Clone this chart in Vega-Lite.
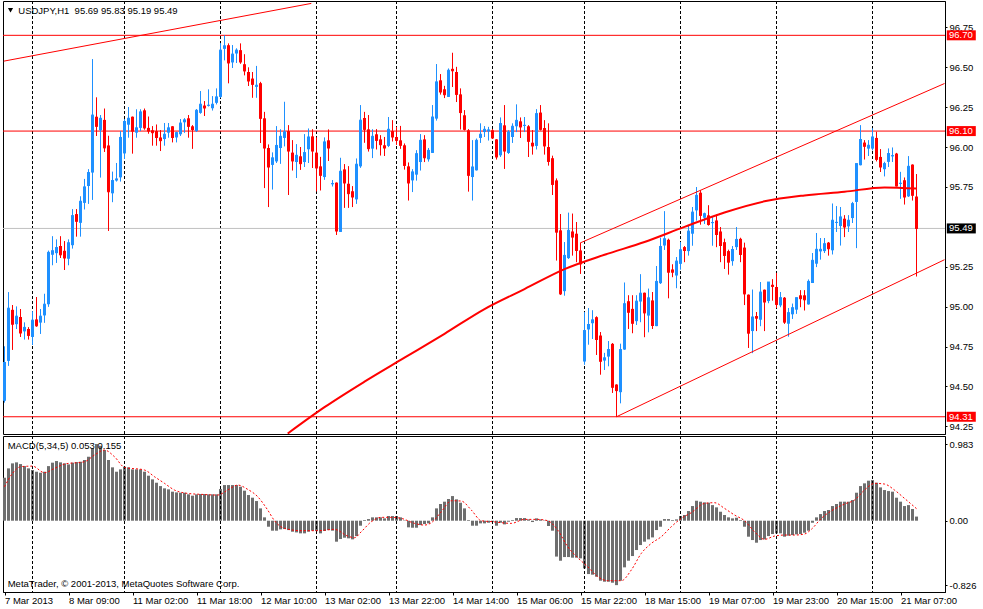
{
"$schema": "https://vega.github.io/schema/vega-lite/v6.json",
"padding": {"left": 2, "top": 0, "right": 0, "bottom": 0},
"autosize": {"type": "pad"},
"background": "white",
"spacing": 0,
"config": {"view": {"stroke": "#000000", "strokeWidth": 1}, "font": "Liberation Sans", "text": {"font": "Liberation Sans"}, "scale": {"continuousPadding": 0}},
"datasets": {
"sep": [{"i":7},{"i":30},{"i":54},{"i":78},{"i":98},{"i":122},{"i":145},{"i":169},{"i":193},{"i":217}],
"ma": [{"i":70.8,"p":94.205},{"i":80,"p":94.37},{"i":90,"p":94.53},{"i":100,"p":94.68},{"i":110,"p":94.83},{"i":120,"p":94.985},{"i":130,"p":95.11},{"i":140,"p":95.235},{"i":150,"p":95.325},{"i":160,"p":95.405},{"i":170,"p":95.5},{"i":180,"p":95.59},{"i":190,"p":95.66},{"i":200,"p":95.697},{"i":210,"p":95.72},{"i":220,"p":95.747},{"i":228,"p":95.74}],
"tl": [{"g":"a","i":-0.2,"p":96.538},{"g":"a","i":76.7,"p":96.9},{"g":"b","i":144,"p":95.4},{"g":"b","i":235,"p":96.398},{"g":"c","i":153,"p":94.31},{"g":"c","i":235,"p":95.294}],
"sig": [{"i":0,"v":0.436},{"i":2,"v":0.607},{"i":4,"v":0.692},{"i":7,"v":0.7},{"i":10,"v":0.615},{"i":12.5,"v":0.671},{"i":15,"v":0.726},{"i":20,"v":0.756},{"i":22.5,"v":0.842},{"i":25,"v":0.906},{"i":27.5,"v":0.82},{"i":30,"v":0.684},{"i":35,"v":0.65},{"i":37.5,"v":0.564},{"i":40,"v":0.479},{"i":42.5,"v":0.393},{"i":45.8,"v":0.35},{"i":49.2,"v":0.338},{"i":53.3,"v":0.329},{"i":55.8,"v":0.393},{"i":58.3,"v":0.457},{"i":60.8,"v":0.402},{"i":63.3,"v":0.308},{"i":65.8,"v":0.137},{"i":67.5,"v":0.0},{"i":70,"v":-0.098},{"i":74.2,"v":-0.128},{"i":78.3,"v":-0.128},{"i":82.5,"v":-0.111},{"i":85.8,"v":-0.197},{"i":87.5,"v":-0.218},{"i":89.2,"v":-0.141},{"i":91.7,"v":-0.013},{"i":94.2,"v":0.043},{"i":96.7,"v":0.043},{"i":99.2,"v":0.03},{"i":102.5,"v":-0.034},{"i":105,"v":-0.056},{"i":106.7,"v":-0.026},{"i":109.2,"v":0.115},{"i":111.7,"v":0.256},{"i":114.2,"v":0.252},{"i":116.7,"v":0.137},{"i":119.2,"v":0.0},{"i":122,"v":-0.013},{"i":126.7,"v":-0.034},{"i":130,"v":0.017},{"i":133.3,"v":0.017},{"i":135.8,"v":0.0},{"i":138.3,"v":-0.12},{"i":140.8,"v":-0.333},{"i":143.3,"v":-0.474},{"i":145.8,"v":-0.59},{"i":148.3,"v":-0.718},{"i":150.8,"v":-0.769},{"i":154.2,"v":-0.769},{"i":156.7,"v":-0.632},{"i":159.2,"v":-0.419},{"i":161.7,"v":-0.291},{"i":164.2,"v":-0.205},{"i":166.7,"v":-0.077},{"i":169.2,"v":0.03},{"i":171.7,"v":0.103},{"i":175,"v":0.222},{"i":177.5,"v":0.231},{"i":180,"v":0.158},{"i":182.5,"v":0.073},{"i":185,"v":0.0},{"i":187.5,"v":-0.141},{"i":190,"v":-0.239},{"i":192.5,"v":-0.197},{"i":195,"v":-0.184},{"i":197.5,"v":-0.184},{"i":200,"v":-0.171},{"i":201.7,"v":-0.111},{"i":204.2,"v":0.03},{"i":207.5,"v":0.15},{"i":210,"v":0.214},{"i":212.5,"v":0.265},{"i":215,"v":0.393},{"i":217.5,"v":0.479},{"i":220,"v":0.47},{"i":222.5,"v":0.393},{"i":225,"v":0.286},{"i":228,"v":0.155}],
"bars": [
{"i":0,"o":94.41,"h":94.75,"l":94.4,"c":94.65,"m":0.551},
{"i":1,"o":94.66,"h":95.09,"l":94.63,"c":94.99,"m":0.671},
{"i":2,"o":94.98,"h":95.01,"l":94.73,"c":94.89,"m":0.735},
{"i":3,"o":94.89,"h":95.0,"l":94.86,"c":94.94,"m":0.748},
{"i":4,"o":94.935,"h":94.985,"l":94.81,"c":94.835,"m":0.726},
{"i":5,"o":94.845,"h":94.9,"l":94.795,"c":94.87,"m":0.7},
{"i":6,"o":94.86,"h":94.87,"l":94.795,"c":94.82,"m":0.671},
{"i":7,"o":94.81,"h":94.97,"l":94.76,"c":94.915,"m":0.65},
{"i":8,"o":94.92,"h":95.06,"l":94.875,"c":94.88,"m":0.628},
{"i":9,"o":94.9,"h":94.985,"l":94.83,"c":94.94,"m":0.615},
{"i":10,"o":94.945,"h":95.08,"l":94.9,"c":95.015,"m":0.628},
{"i":11,"o":95.015,"h":95.35,"l":95.0,"c":95.34,"m":0.7},
{"i":12,"o":95.325,"h":95.44,"l":95.26,"c":95.35,"m":0.744},
{"i":13,"o":95.335,"h":95.42,"l":95.275,"c":95.37,"m":0.765},
{"i":14,"o":95.38,"h":95.44,"l":95.305,"c":95.325,"m":0.748},
{"i":15,"o":95.35,"h":95.41,"l":95.23,"c":95.305,"m":0.735},
{"i":16,"o":95.3,"h":95.42,"l":95.26,"c":95.4,"m":0.722},
{"i":17,"o":95.385,"h":95.61,"l":95.365,"c":95.57,"m":0.744},
{"i":18,"o":95.58,"h":95.61,"l":95.44,"c":95.535,"m":0.752},
{"i":19,"o":95.525,"h":95.69,"l":95.44,"c":95.66,"m":0.756},
{"i":20,"o":95.65,"h":95.8,"l":95.61,"c":95.75,"m":0.778},
{"i":21,"o":95.756,"h":95.86,"l":95.645,"c":95.84,"m":0.82},
{"i":22,"o":95.84,"h":96.55,"l":95.67,"c":96.2,"m":0.93},
{"i":23,"o":96.19,"h":96.31,"l":96.07,"c":96.13,"m":0.983},
{"i":24,"o":96.105,"h":96.2,"l":95.81,"c":96.18,"m":0.96},
{"i":25,"o":96.17,"h":96.24,"l":95.97,"c":95.995,"m":0.906},
{"i":26,"o":96.01,"h":96.07,"l":95.475,"c":95.72,"m":0.778},
{"i":27,"o":95.71,"h":95.845,"l":95.655,"c":95.79,"m":0.684},
{"i":28,"o":95.79,"h":95.9,"l":95.785,"c":95.8,"m":0.628},
{"i":29,"o":95.81,"h":96.1,"l":95.785,"c":96.06,"m":0.658},
{"i":30,"o":95.96,"h":96.175,"l":95.925,"c":96.16,"m":0.692},
{"i":31,"o":96.14,"h":96.25,"l":96.06,"c":96.18,"m":0.684},
{"i":32,"o":96.19,"h":96.19,"l":95.96,"c":96.1,"m":0.658},
{"i":33,"o":96.09,"h":96.235,"l":96.06,"c":96.12,"m":0.658},
{"i":34,"o":96.12,"h":96.235,"l":96.1,"c":96.22,"m":0.658},
{"i":35,"o":96.23,"h":96.24,"l":96.11,"c":96.12,"m":0.628},
{"i":36,"o":96.12,"h":96.19,"l":96.085,"c":96.1,"m":0.577},
{"i":37,"o":96.105,"h":96.13,"l":96.01,"c":96.09,"m":0.53},
{"i":38,"o":96.1,"h":96.14,"l":96.01,"c":96.06,"m":0.487},
{"i":39,"o":96.06,"h":96.105,"l":95.975,"c":96.04,"m":0.444},
{"i":40,"o":96.05,"h":96.15,"l":96.01,"c":96.08,"m":0.415},
{"i":41,"o":96.09,"h":96.15,"l":96.06,"c":96.12,"m":0.402},
{"i":42,"o":96.13,"h":96.13,"l":96.03,"c":96.06,"m":0.372},
{"i":43,"o":96.06,"h":96.095,"l":96.03,"c":96.09,"m":0.363},
{"i":44,"o":96.08,"h":96.175,"l":96.07,"c":96.15,"m":0.359},
{"i":45,"o":96.155,"h":96.18,"l":96.09,"c":96.17,"m":0.359},
{"i":46,"o":96.18,"h":96.2,"l":96.06,"c":96.13,"m":0.338},
{"i":47,"o":96.13,"h":96.136,"l":95.99,"c":96.11,"m":0.321},
{"i":48,"o":96.1,"h":96.237,"l":96.095,"c":96.23,"m":0.338},
{"i":49,"o":96.214,"h":96.35,"l":96.21,"c":96.268,"m":0.342},
{"i":50,"o":96.26,"h":96.287,"l":96.195,"c":96.245,"m":0.342},
{"i":51,"o":96.258,"h":96.36,"l":96.255,"c":96.262,"m":0.338},
{"i":52,"o":96.243,"h":96.318,"l":96.23,"c":96.268,"m":0.338},
{"i":53,"o":96.277,"h":96.366,"l":96.268,"c":96.314,"m":0.338},
{"i":54,"o":96.314,"h":96.65,"l":96.31,"c":96.607,"m":0.406},
{"i":55,"o":96.615,"h":96.7,"l":96.544,"c":96.634,"m":0.457},
{"i":56,"o":96.638,"h":96.648,"l":96.4,"c":96.527,"m":0.457},
{"i":57,"o":96.53,"h":96.638,"l":96.496,"c":96.582,"m":0.457},
{"i":58,"o":96.586,"h":96.617,"l":96.527,"c":96.607,"m":0.457},
{"i":59,"o":96.607,"h":96.648,"l":96.523,"c":96.533,"m":0.436},
{"i":60,"o":96.519,"h":96.58,"l":96.45,"c":96.477,"m":0.385},
{"i":61,"o":96.47,"h":96.498,"l":96.383,"c":96.414,"m":0.329},
{"i":62,"o":96.429,"h":96.47,"l":96.31,"c":96.393,"m":0.295},
{"i":63,"o":96.377,"h":96.508,"l":96.31,"c":96.387,"m":0.252},
{"i":64,"o":96.4,"h":96.408,"l":96.026,"c":96.18,"m":0.158},
{"i":65,"o":96.18,"h":96.22,"l":95.743,"c":95.994,"m":0.043},
{"i":66,"o":95.994,"h":96.015,"l":95.624,"c":95.875,"m":-0.077},
{"i":67,"o":95.888,"h":95.965,"l":95.735,"c":95.932,"m":-0.128},
{"i":68,"o":95.91,"h":96.13,"l":95.9,"c":96.01,"m":-0.128},
{"i":69,"o":95.994,"h":96.11,"l":95.896,"c":96.067,"m":-0.111},
{"i":70,"o":96.057,"h":96.283,"l":96.005,"c":96.095,"m":-0.107},
{"i":71,"o":96.1,"h":96.136,"l":95.7,"c":95.975,"m":-0.12},
{"i":72,"o":95.965,"h":96.042,"l":95.854,"c":95.913,"m":-0.141},
{"i":73,"o":95.906,"h":96.017,"l":95.806,"c":95.948,"m":-0.15},
{"i":74,"o":95.942,"h":96.0,"l":95.858,"c":95.896,"m":-0.162},
{"i":75,"o":95.906,"h":96.08,"l":95.875,"c":95.965,"m":-0.162},
{"i":76,"o":95.986,"h":96.115,"l":95.9,"c":96.063,"m":-0.141},
{"i":77,"o":96.067,"h":96.11,"l":95.869,"c":95.975,"m":-0.128},
{"i":78,"o":95.965,"h":96.059,"l":95.723,"c":95.869,"m":-0.132},
{"i":79,"o":95.879,"h":95.938,"l":95.729,"c":95.823,"m":-0.162},
{"i":80,"o":95.812,"h":96.059,"l":95.796,"c":96.032,"m":-0.132},
{"i":81,"o":96.042,"h":96.109,"l":95.913,"c":95.994,"m":-0.12},
{"i":82,"o":95.767,"h":95.792,"l":95.754,"c":95.771,"m":-0.128},
{"i":83,"o":95.777,"h":95.777,"l":95.45,"c":95.474,"m":-0.269},
{"i":84,"o":95.468,"h":95.932,"l":95.468,"c":95.848,"m":-0.235},
{"i":85,"o":95.86,"h":95.892,"l":95.62,"c":95.775,"m":-0.218},
{"i":86,"o":95.77,"h":95.879,"l":95.62,"c":95.708,"m":-0.226},
{"i":87,"o":95.723,"h":95.754,"l":95.624,"c":95.687,"m":-0.239},
{"i":88,"o":95.672,"h":95.927,"l":95.645,"c":95.892,"m":-0.197},
{"i":89,"o":95.879,"h":96.262,"l":95.871,"c":96.168,"m":-0.064},
{"i":90,"o":96.182,"h":96.22,"l":96.028,"c":96.111,"m":0.009},
{"i":91,"o":96.111,"h":96.2,"l":95.973,"c":95.99,"m":0.021},
{"i":92,"o":95.99,"h":96.11,"l":95.931,"c":96.067,"m":0.043},
{"i":93,"o":96.08,"h":96.111,"l":95.986,"c":96.042,"m":0.043},
{"i":94,"o":96.048,"h":96.073,"l":95.948,"c":96.015,"m":0.043},
{"i":95,"o":96.011,"h":96.063,"l":95.944,"c":95.994,"m":0.03},
{"i":96,"o":96.007,"h":96.188,"l":96.0,"c":96.111,"m":0.06},
{"i":97,"o":96.1,"h":96.167,"l":96.036,"c":96.063,"m":0.06},
{"i":98,"o":96.063,"h":96.126,"l":96.015,"c":96.042,"m":0.06},
{"i":99,"o":96.042,"h":96.132,"l":95.99,"c":96.011,"m":0.043},
{"i":100,"o":96.011,"h":96.021,"l":95.86,"c":95.885,"m":0.005},
{"i":101,"o":95.879,"h":95.902,"l":95.666,"c":95.775,"m":-0.085},
{"i":102,"o":95.791,"h":95.86,"l":95.718,"c":95.844,"m":-0.09},
{"i":103,"o":95.827,"h":95.979,"l":95.791,"c":95.958,"m":-0.09},
{"i":104,"o":95.906,"h":96.08,"l":95.854,"c":96.042,"m":-0.056},
{"i":105,"o":96.048,"h":96.073,"l":95.906,"c":95.933,"m":-0.043},
{"i":106,"o":95.923,"h":95.994,"l":95.91,"c":95.979,"m":-0.034},
{"i":107,"o":95.963,"h":96.262,"l":95.963,"c":96.188,"m":0.043},
{"i":108,"o":96.178,"h":96.519,"l":96.167,"c":96.408,"m":0.158},
{"i":109,"o":96.418,"h":96.456,"l":96.33,"c":96.345,"m":0.214},
{"i":110,"o":96.362,"h":96.383,"l":96.307,"c":96.328,"m":0.244},
{"i":111,"o":96.314,"h":96.491,"l":96.314,"c":96.481,"m":0.278},
{"i":112,"o":96.49,"h":96.59,"l":96.376,"c":96.478,"m":0.316},
{"i":113,"o":96.47,"h":96.502,"l":96.282,"c":96.33,"m":0.274},
{"i":114,"o":96.33,"h":96.366,"l":96.111,"c":96.216,"m":0.231},
{"i":115,"o":96.199,"h":96.23,"l":96.105,"c":96.111,"m":0.158},
{"i":116,"o":96.105,"h":96.111,"l":95.722,"c":95.823,"m":0.009},
{"i":117,"o":95.812,"h":96.042,"l":95.666,"c":95.875,"m":-0.064},
{"i":118,"o":95.854,"h":96.052,"l":95.854,"c":96.042,"m":-0.064},
{"i":119,"o":96.057,"h":96.147,"l":96.027,"c":96.08,"m":-0.034},
{"i":120,"o":96.094,"h":96.13,"l":96.063,"c":96.111,"m":-0.034},
{"i":121,"o":96.098,"h":96.126,"l":96.042,"c":96.107,"m":-0.026},
{"i":122,"o":96.105,"h":96.111,"l":96.052,"c":96.057,"m":-0.013},
{"i":123,"o":96.048,"h":96.048,"l":95.923,"c":95.938,"m":-0.064},
{"i":124,"o":95.948,"h":96.184,"l":95.938,"c":96.147,"m":-0.026},
{"i":125,"o":96.136,"h":96.262,"l":95.864,"c":95.975,"m":-0.047},
{"i":126,"o":95.963,"h":96.105,"l":95.958,"c":96.094,"m":-0.013},
{"i":127,"o":96.063,"h":96.147,"l":96.027,"c":96.13,"m":0.009},
{"i":128,"o":96.13,"h":96.266,"l":96.094,"c":96.167,"m":0.034},
{"i":129,"o":96.161,"h":96.184,"l":96.057,"c":96.126,"m":0.034},
{"i":130,"o":96.132,"h":96.188,"l":96.094,"c":96.136,"m":0.034},
{"i":131,"o":96.13,"h":96.136,"l":95.938,"c":96.036,"m":0.017},
{"i":132,"o":96.027,"h":96.105,"l":95.954,"c":96.007,"m":-0.017},
{"i":133,"o":96.007,"h":96.236,"l":95.986,"c":96.209,"m":0.03},
{"i":134,"o":96.216,"h":96.262,"l":96.105,"c":96.111,"m":0.017},
{"i":135,"o":96.119,"h":96.167,"l":95.954,"c":96.007,"m":0.005},
{"i":136,"o":96.0,"h":96.147,"l":95.885,"c":95.91,"m":-0.068},
{"i":137,"o":95.93,"h":95.945,"l":95.7,"c":95.766,"m":-0.128},
{"i":138,"o":95.791,"h":95.802,"l":95.29,"c":95.467,"m":-0.46},
{"i":139,"o":95.478,"h":95.58,"l":95.074,"c":95.08,"m":-0.513},
{"i":140,"o":95.097,"h":95.404,"l":95.07,"c":95.321,"m":-0.466},
{"i":141,"o":95.304,"h":95.588,"l":95.3,"c":95.478,"m":-0.466},
{"i":142,"o":95.471,"h":95.582,"l":95.321,"c":95.436,"m":-0.474},
{"i":143,"o":95.457,"h":95.53,"l":95.279,"c":95.352,"m":-0.474},
{"i":144,"o":95.352,"h":95.4,"l":95.206,"c":95.268,"m":-0.483},
{"i":145,"o":94.656,"h":94.965,"l":94.637,"c":94.85,"m":-0.611},
{"i":146,"o":94.857,"h":94.99,"l":94.763,"c":94.888,"m":-0.684},
{"i":147,"o":94.896,"h":94.976,"l":94.798,"c":94.917,"m":-0.692},
{"i":148,"o":94.934,"h":94.938,"l":94.698,"c":94.794,"m":-0.718},
{"i":149,"o":94.819,"h":94.84,"l":94.575,"c":94.658,"m":-0.769},
{"i":150,"o":94.662,"h":94.71,"l":94.604,"c":94.679,"m":-0.782},
{"i":151,"o":94.687,"h":94.784,"l":94.627,"c":94.731,"m":-0.782},
{"i":152,"o":94.767,"h":94.771,"l":94.46,"c":94.495,"m":-0.795},
{"i":153,"o":94.512,"h":94.512,"l":94.31,"c":94.474,"m":-0.826},
{"i":154,"o":94.464,"h":94.767,"l":94.395,"c":94.731,"m":-0.769},
{"i":155,"o":94.731,"h":95.15,"l":94.731,"c":95.018,"m":-0.598},
{"i":156,"o":95.034,"h":95.07,"l":94.861,"c":94.965,"m":-0.513},
{"i":157,"o":94.986,"h":95.07,"l":94.834,"c":94.896,"m":-0.453},
{"i":158,"o":94.909,"h":95.07,"l":94.886,"c":95.034,"m":-0.376},
{"i":159,"o":95.032,"h":95.202,"l":94.903,"c":95.084,"m":-0.312},
{"i":160,"o":95.087,"h":95.087,"l":94.809,"c":94.961,"m":-0.269},
{"i":161,"o":94.944,"h":95.112,"l":94.84,"c":95.055,"m":-0.239},
{"i":162,"o":95.039,"h":95.091,"l":94.861,"c":94.882,"m":-0.214},
{"i":163,"o":94.878,"h":95.254,"l":94.878,"c":95.158,"m":-0.12},
{"i":164,"o":95.147,"h":95.431,"l":95.143,"c":95.377,"m":-0.077},
{"i":165,"o":95.383,"h":95.597,"l":95.356,"c":95.425,"m":0.021},
{"i":166,"o":95.419,"h":95.425,"l":95.053,"c":95.216,"m":0.021},
{"i":167,"o":95.233,"h":95.264,"l":95.185,"c":95.216,"m":0.009},
{"i":168,"o":95.195,"h":95.31,"l":95.116,"c":95.285,"m":0.017},
{"i":169,"o":95.268,"h":95.404,"l":95.233,"c":95.356,"m":0.06},
{"i":170,"o":95.373,"h":95.379,"l":95.279,"c":95.352,"m":0.073},
{"i":171,"o":95.348,"h":95.509,"l":95.321,"c":95.473,"m":0.124},
{"i":172,"o":95.457,"h":95.624,"l":95.383,"c":95.592,"m":0.188},
{"i":173,"o":95.603,"h":95.749,"l":95.54,"c":95.697,"m":0.256},
{"i":174,"o":95.714,"h":95.728,"l":95.515,"c":95.572,"m":0.244},
{"i":175,"o":95.557,"h":95.588,"l":95.519,"c":95.582,"m":0.235},
{"i":176,"o":95.572,"h":95.634,"l":95.509,"c":95.515,"m":0.231},
{"i":177,"o":95.523,"h":95.561,"l":95.383,"c":95.527,"m":0.2},
{"i":178,"o":95.54,"h":95.576,"l":95.373,"c":95.452,"m":0.171},
{"i":179,"o":95.471,"h":95.498,"l":95.279,"c":95.383,"m":0.115},
{"i":180,"o":95.404,"h":95.425,"l":95.237,"c":95.321,"m":0.073},
{"i":181,"o":95.348,"h":95.356,"l":95.202,"c":95.279,"m":0.043},
{"i":182,"o":95.285,"h":95.379,"l":95.258,"c":95.358,"m":0.03},
{"i":183,"o":95.373,"h":95.498,"l":95.356,"c":95.421,"m":0.038},
{"i":184,"o":95.425,"h":95.431,"l":95.279,"c":95.327,"m":0.009},
{"i":185,"o":95.37,"h":95.4,"l":95.01,"c":95.08,"m":-0.077},
{"i":186,"o":95.075,"h":95.075,"l":94.742,"c":94.834,"m":-0.205},
{"i":187,"o":94.847,"h":95.106,"l":94.709,"c":94.935,"m":-0.248},
{"i":188,"o":94.941,"h":94.966,"l":94.847,"c":94.928,"m":-0.282},
{"i":189,"o":94.918,"h":95.154,"l":94.878,"c":95.091,"m":-0.248},
{"i":190,"o":95.106,"h":95.106,"l":94.847,"c":95.029,"m":-0.239},
{"i":191,"o":95.035,"h":95.154,"l":95.022,"c":95.154,"m":-0.197},
{"i":192,"o":95.137,"h":95.171,"l":95.039,"c":95.127,"m":-0.171},
{"i":193,"o":95.123,"h":95.211,"l":94.993,"c":95.014,"m":-0.162},
{"i":194,"o":95.008,"h":95.091,"l":94.997,"c":95.056,"m":-0.162},
{"i":195,"o":95.056,"h":95.06,"l":94.893,"c":94.903,"m":-0.205},
{"i":196,"o":94.893,"h":94.991,"l":94.813,"c":94.962,"m":-0.192},
{"i":197,"o":94.952,"h":95.018,"l":94.924,"c":94.993,"m":-0.184},
{"i":198,"o":94.981,"h":95.056,"l":94.956,"c":95.056,"m":-0.175},
{"i":199,"o":95.071,"h":95.102,"l":94.997,"c":95.05,"m":-0.171},
{"i":200,"o":95.071,"h":95.102,"l":94.977,"c":95.043,"m":-0.154},
{"i":201,"o":95.014,"h":95.169,"l":95.014,"c":95.158,"m":-0.128},
{"i":202,"o":95.148,"h":95.336,"l":95.148,"c":95.29,"m":-0.026},
{"i":203,"o":95.269,"h":95.461,"l":95.248,"c":95.359,"m":0.043},
{"i":204,"o":95.346,"h":95.43,"l":95.296,"c":95.359,"m":0.085},
{"i":205,"o":95.348,"h":95.43,"l":95.336,"c":95.394,"m":0.124},
{"i":206,"o":95.401,"h":95.405,"l":95.321,"c":95.363,"m":0.137},
{"i":207,"o":95.353,"h":95.645,"l":95.328,"c":95.541,"m":0.188},
{"i":208,"o":95.524,"h":95.629,"l":95.468,"c":95.528,"m":0.214},
{"i":209,"o":95.505,"h":95.624,"l":95.384,"c":95.562,"m":0.244},
{"i":210,"o":95.551,"h":95.572,"l":95.436,"c":95.499,"m":0.244},
{"i":211,"o":95.503,"h":95.572,"l":95.468,"c":95.541,"m":0.244},
{"i":212,"o":95.555,"h":95.656,"l":95.524,"c":95.645,"m":0.265},
{"i":213,"o":95.656,"h":95.896,"l":95.367,"c":95.896,"m":0.359},
{"i":214,"o":95.886,"h":96.136,"l":95.886,"c":96.047,"m":0.444},
{"i":215,"o":96.028,"h":96.042,"l":95.923,"c":96.005,"m":0.479},
{"i":216,"o":95.99,"h":96.042,"l":95.944,"c":96.011,"m":0.513},
{"i":217,"o":95.99,"h":96.116,"l":95.98,"c":96.063,"m":0.521},
{"i":218,"o":96.057,"h":96.095,"l":95.911,"c":95.923,"m":0.487},
{"i":219,"o":95.938,"h":95.986,"l":95.844,"c":95.875,"m":0.427},
{"i":220,"o":95.861,"h":95.907,"l":95.817,"c":95.896,"m":0.393},
{"i":221,"o":95.907,"h":95.99,"l":95.875,"c":95.959,"m":0.38},
{"i":222,"o":95.942,"h":95.996,"l":95.907,"c":95.946,"m":0.372},
{"i":223,"o":95.959,"h":95.963,"l":95.754,"c":95.756,"m":0.295},
{"i":224,"o":95.769,"h":95.844,"l":95.677,"c":95.773,"m":0.244},
{"i":225,"o":95.792,"h":95.808,"l":95.641,"c":95.687,"m":0.188},
{"i":226,"o":95.691,"h":95.942,"l":95.687,"c":95.879,"m":0.2},
{"i":227,"o":95.89,"h":95.89,"l":95.666,"c":95.698,"m":0.15},
{"i":228,"o":95.69,"h":95.83,"l":95.19,"c":95.49,"m":0.053}
]
},
"vconcat": [
{
"width": 942, "height": 433,
"data": {"name": "bars"},
"layer": [
{"data": {"name": "sep"}, "mark": {"type": "rule", "color": "#000000", "strokeWidth": 1, "strokeDash": [3, 2]},
 "encoding": {"x": {"field": "i", "type": "quantitative", "scale": {"domain": [-0.375, 235.125], "nice": false, "zero": false, "padding": 0}, "axis": null}}},
{"mark": {"type": "rule", "strokeWidth": 1},
 "encoding": {
  "x": {"field": "i", "type": "quantitative", "scale": {"domain": [-0.375, 235.125], "nice": false, "zero": false, "padding": 0}, "axis": null},
  "y": {"field": "l", "type": "quantitative", "scale": {"domain": [94.202, 96.915], "nice": false, "zero": false, "padding": 0},
        "axis": {"orient": "right", "title": null, "grid": false, "values": [96.75, 96.5, 96.25, 96.0, 95.75, 95.25, 95.0, 94.75, 94.5, 94.25], "format": ".2f", "tickSize": 2, "labelPadding": 2, "labelFont": "Liberation Sans", "labelFontSize": 9.5, "labelColor": "#000000", "tickColor": "#000000", "domainColor": "#000000", "labelOverlap": false, "labelBound": false, "labelFlush": false}},
  "y2": {"field": "h"},
  "color": {"condition": {"test": "datum.c >= datum.o", "value": "#1e90ff"}, "value": "#ff0000"}}},
{"data": {"values": [{"p": 96.7}, {"p": 96.1}, {"p": 94.31}]}, "mark": {"type": "rule", "color": "#ff0000", "strokeWidth": 1},
 "encoding": {"y": {"field": "p", "type": "quantitative", "scale": {"domain": [94.202, 96.915], "nice": false, "zero": false, "padding": 0}}}},
{"data": {"values": [{"p": 95.49}]}, "mark": {"type": "rule", "color": "#c0c0c0", "strokeWidth": 1},
 "encoding": {"y": {"field": "p", "type": "quantitative", "scale": {"domain": [94.202, 96.915], "nice": false, "zero": false, "padding": 0}}}},
{"mark": {"type": "rule", "strokeWidth": 1},
 "encoding": {
  "x": {"field": "i", "type": "quantitative", "scale": {"domain": [-0.375, 235.125], "nice": false, "zero": false, "padding": 0}, "axis": null},
  "y": {"field": "l", "type": "quantitative", "scale": {"domain": [94.202, 96.915], "nice": false, "zero": false, "padding": 0}},
  "y2": {"field": "h"},
  "color": {"condition": {"test": "datum.c >= datum.o", "value": "#1e90ff"}, "value": "#ff0000"}}},
{"mark": {"type": "bar", "size": 3},
 "encoding": {
  "x": {"field": "i", "type": "quantitative", "scale": {"domain": [-0.375, 235.125], "nice": false, "zero": false, "padding": 0}, "axis": null},
  "y": {"field": "o", "type": "quantitative", "scale": {"domain": [94.202, 96.915], "nice": false, "zero": false, "padding": 0}},
  "y2": {"field": "c"},
  "color": {"condition": {"test": "datum.c >= datum.o", "value": "#1e90ff"}, "value": "#ff0000"}}},
{"mark": {"type": "tick", "orient": "horizontal", "size": 3, "thickness": 1, "opacity": 1},
 "encoding": {
  "x": {"field": "i", "type": "quantitative", "scale": {"domain": [-0.375, 235.125], "nice": false, "zero": false, "padding": 0}, "axis": null},
  "y": {"field": "c", "type": "quantitative", "scale": {"domain": [94.202, 96.915], "nice": false, "zero": false, "padding": 0}},
  "color": {"condition": {"test": "datum.c >= datum.o", "value": "#1e90ff"}, "value": "#ff0000"}}},
{"data": {"name": "ma"}, "mark": {"type": "line", "color": "#ff0000", "strokeWidth": 2, "interpolate": "monotone", "clip": true},
 "encoding": {
  "x": {"field": "i", "type": "quantitative", "scale": {"domain": [-0.375, 235.125], "nice": false, "zero": false, "padding": 0}, "axis": null},
  "y": {"field": "p", "type": "quantitative", "scale": {"domain": [94.202, 96.915], "nice": false, "zero": false, "padding": 0}}}},
{"data": {"name": "tl"}, "mark": {"type": "line", "color": "#ff0000", "strokeWidth": 1, "clip": true},
 "encoding": {
  "x": {"field": "i", "type": "quantitative", "scale": {"domain": [-0.375, 235.125], "nice": false, "zero": false, "padding": 0}, "axis": null},
  "y": {"field": "p", "type": "quantitative", "scale": {"domain": [94.202, 96.915], "nice": false, "zero": false, "padding": 0}},
  "detail": {"field": "g"}}},
{"data": {"values": [{"p": 96.7}, {"p": 96.1}, {"p": 94.31}]}, "mark": {"type": "tick", "orient": "horizontal", "size": 29, "thickness": 10, "color": "#ff0000", "opacity": 1, "clip": false},
 "encoding": {
  "x": {"datum": 239.2, "type": "quantitative", "scale": {"domain": [-0.375, 235.125], "nice": false, "zero": false, "padding": 0}, "axis": null},
  "y": {"field": "p", "type": "quantitative", "scale": {"domain": [94.202, 96.915], "nice": false, "zero": false, "padding": 0}}}},
{"data": {"values": [{"p": 95.49}]}, "mark": {"type": "tick", "orient": "horizontal", "size": 29, "thickness": 10, "color": "#000000", "opacity": 1, "clip": false},
 "encoding": {
  "x": {"datum": 239.2, "type": "quantitative", "scale": {"domain": [-0.375, 235.125], "nice": false, "zero": false, "padding": 0}, "axis": null},
  "y": {"field": "p", "type": "quantitative", "scale": {"domain": [94.202, 96.915], "nice": false, "zero": false, "padding": 0}}}},
{"data": {"values": [{"p": 96.7}, {"p": 96.1}, {"p": 94.31}, {"p": 95.49}]}, "mark": {"type": "text", "align": "left", "baseline": "middle", "font": "Liberation Sans", "fontSize": 9.5, "color": "#ffffff", "clip": false},
 "encoding": {
  "x": {"datum": 236.125, "type": "quantitative", "scale": {"domain": [-0.375, 235.125], "nice": false, "zero": false, "padding": 0}, "axis": null},
  "y": {"field": "p", "type": "quantitative", "scale": {"domain": [94.202, 96.915], "nice": false, "zero": false, "padding": 0}},
  "text": {"field": "p", "type": "quantitative", "format": ".2f"}}},
{"data": {"values": [{"t": "USDJPY,H1\u00a0 95.69 95.83 95.19 95.49"}]}, "mark": {"type": "text", "align": "left", "baseline": "middle", "font": "Liberation Sans", "fontSize": 9.5, "color": "#000000"},
 "encoding": {
  "x": {"datum": 3.45, "type": "quantitative", "scale": {"domain": [-0.375, 235.125], "nice": false, "zero": false, "padding": 0}, "axis": null},
  "y": {"datum": 96.855, "type": "quantitative", "scale": {"domain": [94.202, 96.915], "nice": false, "zero": false, "padding": 0}},
  "text": {"field": "t"}}},
{"data": {"values": [{"t": "menu"}]}, "mark": {"type": "point", "shape": "triangle-down", "size": 26, "filled": true, "color": "#000000", "opacity": 1},
 "encoding": {
  "x": {"datum": 1.5, "type": "quantitative", "scale": {"domain": [-0.375, 235.125], "nice": false, "zero": false, "padding": 0}, "axis": null},
  "y": {"datum": 96.857, "type": "quantitative", "scale": {"domain": [94.202, 96.915], "nice": false, "zero": false, "padding": 0}}}}
]
},
{
"width": 942, "height": 156,
"data": {"name": "bars"},
"layer": [
{"mark": {"type": "bar", "size": 3, "color": "#6e6e6e"},
 "encoding": {
  "x": {"field": "i", "type": "quantitative", "scale": {"domain": [-0.375, 235.125], "nice": false, "zero": false, "padding": 0},
        "axis": {"title": null, "grid": false, "values": [0, 16, 32, 48, 64, 80, 96, 112, 128, 144, 160, 176, 192, 208, 224], "labelExpr": "['7 Mar 2013','8 Mar 09:00','11 Mar 02:00','11 Mar 18:00','12 Mar 10:00','13 Mar 02:00','13 Mar 22:00','14 Mar 14:00','15 Mar 06:00','15 Mar 22:00','18 Mar 15:00','19 Mar 07:00','19 Mar 23:00','20 Mar 15:00','21 Mar 07:00'][round(datum.value / 16)]", "labelAlign": "left", "labelDx": -1, "tickSize": 3, "labelPadding": 0, "labelFont": "Liberation Sans", "labelFontSize": 9.5, "labelColor": "#000000", "tickColor": "#000000", "domainColor": "#000000", "labelOverlap": false, "labelBound": false, "labelFlush": false}},
  "y": {"field": "m", "type": "quantitative", "scale": {"domain": [-0.914, 1.086], "nice": false, "zero": false, "padding": 0},
        "axis": {"orient": "right", "title": null, "grid": false, "values": [0.983, 0, -0.826], "labelExpr": "datum.value == 0 ? '0.00' : (datum.value < 0 ? '-' + format(-datum.value, '.3f') : format(datum.value, '.3f'))", "tickSize": 2, "labelPadding": 2, "labelFont": "Liberation Sans", "labelFontSize": 9.5, "labelColor": "#000000", "tickColor": "#000000", "domainColor": "#000000", "labelOverlap": false, "labelBound": false, "labelFlush": false}},
  "y2": {"datum": 0}}},
{"data": {"name": "sep"}, "mark": {"type": "rule", "color": "#000000", "strokeWidth": 1, "strokeDash": [3, 2]},
 "encoding": {"x": {"field": "i", "type": "quantitative", "scale": {"domain": [-0.375, 235.125], "nice": false, "zero": false, "padding": 0}}}},
{"data": {"name": "sig"}, "mark": {"type": "line", "color": "#ff0000", "strokeWidth": 1, "strokeDash": [2, 2], "interpolate": "monotone"},
 "encoding": {
  "x": {"field": "i", "type": "quantitative", "scale": {"domain": [-0.375, 235.125], "nice": false, "zero": false, "padding": 0}},
  "y": {"field": "v", "type": "quantitative", "scale": {"domain": [-0.914, 1.086], "nice": false, "zero": false, "padding": 0}}}},
{"data": {"values": [{"t": "MACD(5,34,5) 0.053 0.155", "v": 0.958}, {"t": "MetaTrader, © 2001-2013, MetaQuotes Software Corp.", "v": -0.81}]}, "mark": {"type": "text", "align": "left", "baseline": "middle", "font": "Liberation Sans", "fontSize": 9.5, "color": "#000000"},
 "encoding": {
  "x": {"datum": 0.8, "type": "quantitative", "scale": {"domain": [-0.375, 235.125], "nice": false, "zero": false, "padding": 0}},
  "y": {"field": "v", "type": "quantitative", "scale": {"domain": [-0.914, 1.086], "nice": false, "zero": false, "padding": 0}},
  "text": {"field": "t"}}}
]
}
]
}
